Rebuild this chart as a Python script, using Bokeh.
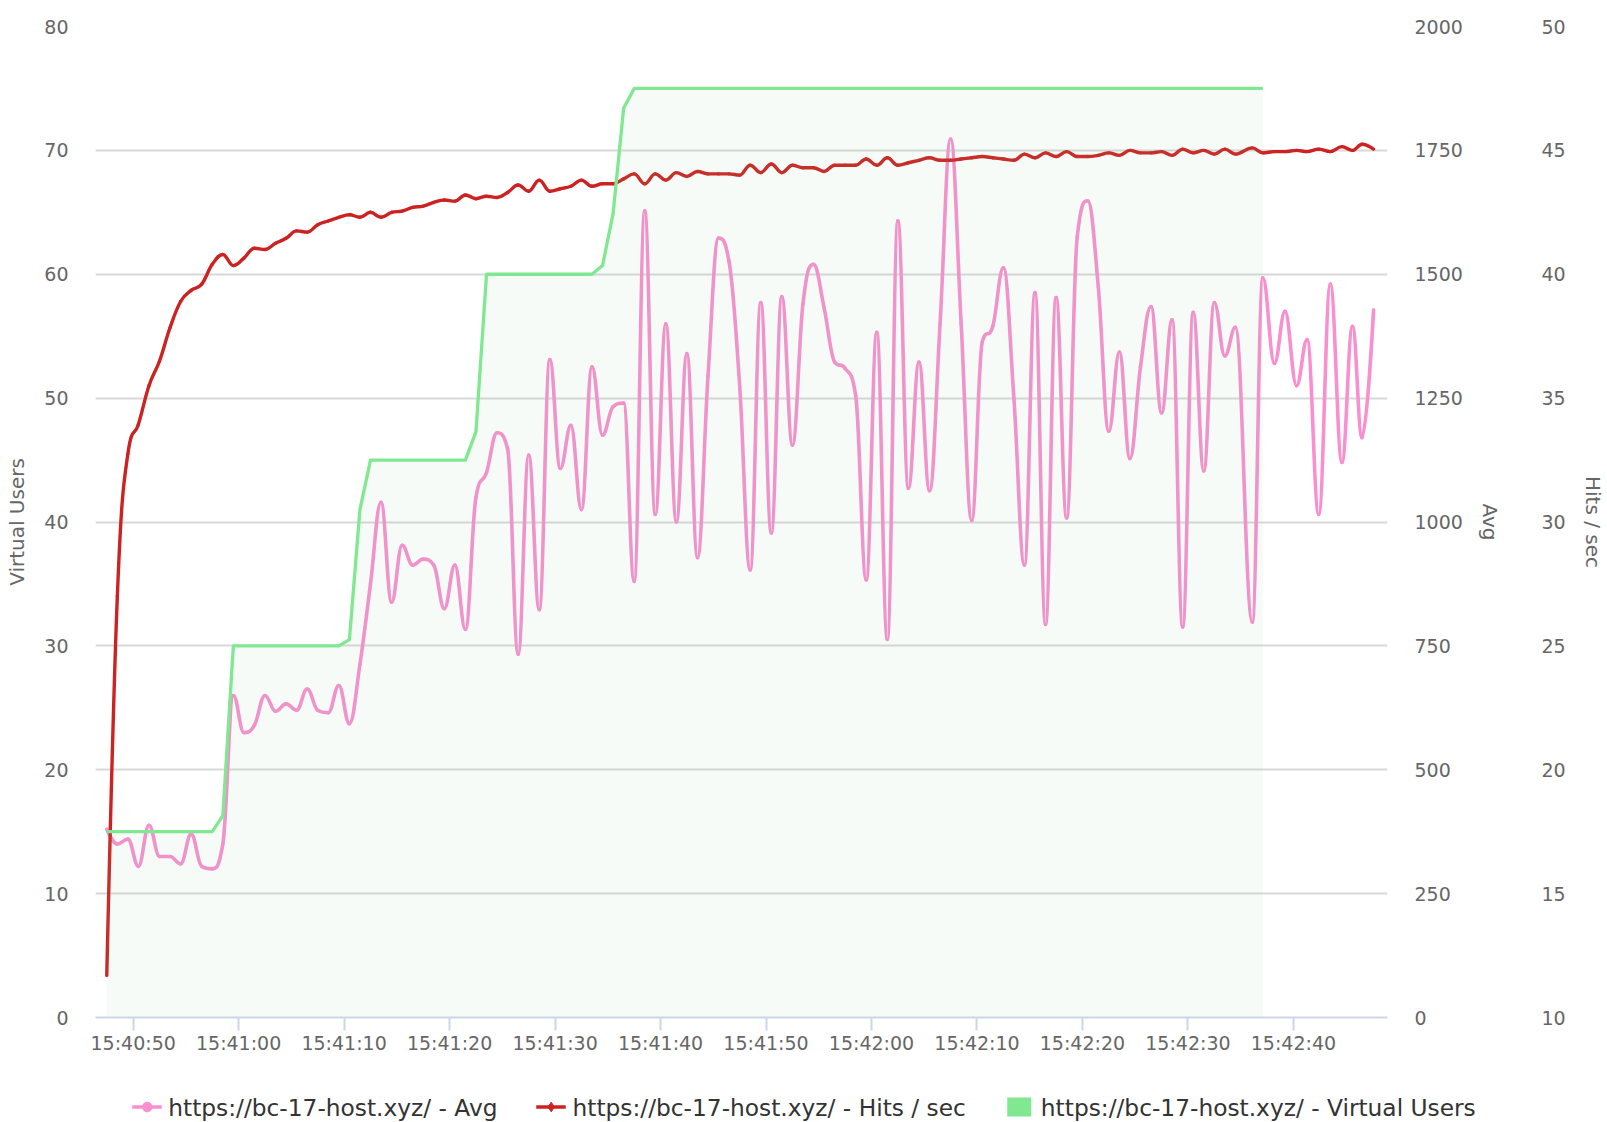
import datetime as dt

from bokeh.embed import file_html
from bokeh.layouts import column
from bokeh.models import (ColumnDataSource, DatetimeTickFormatter, FixedTicker,
                          Legend, LegendItem, LinearAxis, Range1d,
                          SingleIntervalTicker)
from bokeh.plotting import figure
from bokeh.resources import INLINE

# ---------------- data ----------------
START = dt.datetime(2024, 1, 1, 15, 40, 47, 500000)

# seconds after START for each sample
SECONDS = list(range(108)) + [108.6, 109.6, 110.7, 111.7, 112.8, 113.8,
                              114.9, 116.0, 117.1, 118.1, 119.0, 120.1]

AVG_MS = [380, 350, 360, 305, 388, 325, 325, 310, 370, 305,
          300, 350, 650, 575, 590, 650, 618, 633, 620, 663,
          620, 615, 670, 593, 713, 875, 1040, 838, 953, 913,
          925, 913, 825, 913, 783, 1050, 1100, 1180, 1148, 733,
          1135, 823, 1328, 1108, 1195, 1025, 1313, 1175, 1233, 1240,
          880, 1628, 1015, 1400, 1000, 1340, 928, 1295, 1573, 1525,
          1275, 903, 1443, 978, 1455, 1155, 1440, 1520, 1433, 1323,
          1310, 1255, 883, 1383, 763, 1608, 1068, 1323, 1063, 1400,
          1773, 1400, 1003, 1363, 1395, 1513, 1250, 913, 1463, 793,
          1453, 1008, 1575, 1648, 1475, 1183, 1343, 1128, 1313, 1435,
          1220, 1408, 788, 1423, 1103, 1443, 1335, 1393,
          798, 1493, 1320, 1425, 1275, 1368, 1015, 1480, 1120, 1395, 1170, 1428]

HITS_PER_SEC = [11.7, 27.0, 32.75, 33.95, 35.5, 36.5, 37.85, 38.9, 39.35, 39.6,
                40.4, 40.8, 40.35, 40.65, 41.05, 41.0, 41.25, 41.45, 41.75, 41.7,
                42.0, 42.15, 42.3, 42.4, 42.3, 42.5, 42.3, 42.5, 42.55, 42.7,
                42.75, 42.9, 43.0, 42.95, 43.2, 43.05, 43.15, 43.1, 43.3, 43.6,
                43.35, 43.8, 43.35, 43.45, 43.55, 43.8, 43.55, 43.65, 43.65, 43.85,
                44.05, 43.65, 44.05, 43.8, 44.1, 43.95, 44.15, 44.05, 44.05, 44.05,
                44.0, 44.4, 44.1, 44.45, 44.1, 44.4, 44.3, 44.3, 44.15, 44.4,
                44.4, 44.4, 44.65, 44.4, 44.7, 44.4, 44.5, 44.6, 44.7, 44.6,
                44.6, 44.65, 44.7, 44.75, 44.7, 44.65, 44.6, 44.85, 44.7, 44.9,
                44.75, 44.95, 44.75, 44.75, 44.8, 44.9, 44.8, 45.0, 44.9, 44.9,
                44.95, 44.8, 45.05, 44.9, 45.0, 44.85, 45.05, 44.85,
                45.1, 44.9, 44.95, 44.95, 45.0, 44.95, 45.05, 44.95, 45.15, 45.0, 45.25, 45.05]

VIRTUAL_USERS = ([15] * 11 + [16.3] + [30] * 11 + [30.5, 41] + [45] * 10 +
                 [47.3] + [60] * 11 + [60.7, 64.9, 73.4] + [75] * 60)

VU_TICKS = [0, 10, 20, 30, 40, 50, 60, 70, 80]
AVG_TICKS = [0, 250, 500, 750, 1000, 1250, 1500, 1750, 2000]
HITS_TICKS = [10, 15, 20, 25, 30, 35, 40, 45, 50]

LABEL_AVG = "https://bc-17-host.xyz/ - Avg"
LABEL_HITS = "https://bc-17-host.xyz/ - Hits / sec"
LABEL_VU = "https://bc-17-host.xyz/ - Virtual Users"

PINK = "#f98fcf"
RED = "#cc2222"
GREEN = "#80e890"
FONT = "DejaVu Sans"
TICK_SIZE = "19px"

EPOCH = dt.datetime(1970, 1, 1)
BASE_MS = (START - EPOCH).total_seconds() * 1000.0


def to_ms(s):
    return BASE_MS + s * 1000.0


def spline(xs, ys, smoothing=1.5):
    """Highcharts-style spline: bezier segments through the data points."""
    n = len(xs)
    left = [None] * n
    right = [None] * n
    for i in range(n):
        x, y = xs[i], ys[i]
        if i == 0 or i == n - 1:
            left[i] = (x, y)
            right[i] = (x, y)
            continue
        lx, ly = xs[i - 1], ys[i - 1]
        nx, ny = xs[i + 1], ys[i + 1]
        lcx = (smoothing * x + lx) / (smoothing + 1)
        lcy = (smoothing * y + ly) / (smoothing + 1)
        rcx = (smoothing * x + nx) / (smoothing + 1)
        rcy = (smoothing * y + ny) / (smoothing + 1)
        if rcx != lcx:
            corr = (rcy - lcy) * (rcx - x) / (rcx - lcx) + y - rcy
            lcy += corr
            rcy += corr
            if lcy > ly and lcy > y:
                lcy = max(ly, y)
                rcy = 2 * y - lcy
            elif lcy < ly and lcy < y:
                lcy = min(ly, y)
                rcy = 2 * y - lcy
            if rcy > ny and rcy > y:
                rcy = max(ny, y)
                lcy = 2 * y - rcy
            elif rcy < ny and rcy < y:
                rcy = min(ny, y)
                lcy = 2 * y - rcy
        left[i] = (lcx, lcy)
        right[i] = (rcx, rcy)
    d = dict(x0=[], y0=[], x1=[], y1=[], cx0=[], cy0=[], cx1=[], cy1=[])
    for i in range(n - 1):
        d["x0"].append(xs[i]); d["y0"].append(ys[i])
        d["x1"].append(xs[i + 1]); d["y1"].append(ys[i + 1])
        d["cx0"].append(right[i][0]); d["cy0"].append(right[i][1])
        d["cx1"].append(left[i + 1][0]); d["cy1"].append(left[i + 1][1])
    return ColumnDataSource(d)


times = [to_ms(s) for s in SECONDS]

W = 1607
H_MAIN, H_LEG = 1091, 31
p = figure(width=W, height=H_MAIN, x_axis_type="datetime",
           x_range=Range1d(to_ms(-1.07), to_ms(121.42)),
           y_range=Range1d(0, 80),
           output_backend="svg", toolbar_location=None,
           min_border_left=95, min_border_right=218,
           min_border_top=26, min_border_bottom=H_MAIN - 1017)
p.frame_align = False
p.outline_line_color = None
p.background_fill_color = "white"
p.border_fill_color = "white"

p.extra_y_ranges = {"avg": Range1d(0, 2000), "hits": Range1d(10, 50)}

# grid
p.xgrid.grid_line_color = None
p.ygrid.grid_line_color = "#d8d8d8"
p.ygrid.grid_line_width = 2
p.ygrid.ticker = FixedTicker(ticks=VU_TICKS)

# x axis
xa = p.xaxis[0]
xa.ticker = SingleIntervalTicker(interval=10000, num_minor_ticks=0)
fmt = "%H:%M:%S"
xa.formatter = DatetimeTickFormatter(seconds=fmt, minsec=fmt, minutes=fmt,
                                     hourmin=fmt, hours=fmt, milliseconds=fmt)
xa.axis_line_color = "#ccd6eb"
xa.axis_line_width = 2
xa.major_tick_line_color = "#ccd6eb"
xa.major_tick_line_width = 2
xa.major_tick_out = 13
xa.major_tick_in = 0
xa.minor_tick_line_color = None
xa.major_label_standoff = 1
xa.major_label_text_font = FONT
xa.major_label_text_font_size = TICK_SIZE
xa.major_label_text_color = "#666666"


def style_y(ax, standoff, label_standoff):
    ax.axis_line_color = None
    ax.major_tick_line_color = None
    ax.minor_tick_line_color = None
    ax.major_tick_out = 0
    ax.major_tick_in = 0
    ax.major_label_standoff = standoff
    ax.major_label_text_font = FONT
    ax.major_label_text_font_size = TICK_SIZE
    ax.major_label_text_color = "#666666"
    ax.axis_label_text_font = FONT
    ax.axis_label_text_font_size = "20px"
    ax.axis_label_text_font_style = "normal"
    ax.axis_label_text_color = "#666666"
    ax.axis_label_standoff = label_standoff


ya = p.yaxis[0]
ya.ticker = FixedTicker(ticks=VU_TICKS)
ya.axis_label = "Virtual Users"
style_y(ya, 27, 12)

avg_axis = LinearAxis(y_range_name="avg", axis_label="Avg",
                      ticker=FixedTicker(ticks=AVG_TICKS))
style_y(avg_axis, 27, 12)
p.add_layout(avg_axis, "right")

hits_axis = LinearAxis(y_range_name="hits", axis_label="Hits / sec",
                       ticker=FixedTicker(ticks=HITS_TICKS))
style_y(hits_axis, 37, 12)
p.add_layout(hits_axis, "right")

# series
avg_src = spline(times, AVG_MS)
p.bezier(x0="x0", y0="y0", x1="x1", y1="y1", cx0="cx0", cy0="cy0",
         cx1="cx1", cy1="cy1", source=avg_src, y_range_name="avg",
         line_color=PINK, line_width=3.6, line_cap="round", line_join="round")

hits_src = spline(times, HITS_PER_SEC)
p.bezier(x0="x0", y0="y0", x1="x1", y1="y1", cx0="cx0", cy0="cy0",
         cx1="cx1", cy1="cy1", source=hits_src, y_range_name="hits",
         line_color=RED, line_width=3.4, line_cap="round", line_join="round")

vu_times = times[:len(VIRTUAL_USERS)]
p.varea(x=vu_times, y1=[0] * len(VIRTUAL_USERS), y2=VIRTUAL_USERS,
        fill_color="#8fc79a", fill_alpha=0.08)
p.line(vu_times, VIRTUAL_USERS, line_color=GREEN, line_width=3.3,
       line_join="round")

# ---------------- legend strip ----------------
lp = figure(width=W, height=H_LEG, x_range=Range1d(0, 1), y_range=Range1d(0, 1),
            x_axis_location=None, y_axis_location=None,
            output_backend="svg", toolbar_location=None,
            min_border=0, min_border_left=0, min_border_right=0,
            min_border_top=0, min_border_bottom=0)
lp.frame_align = False
lp.grid.visible = False
lp.outline_line_color = None
lp.background_fill_color = "white"
lp.border_fill_color = "white"

# proxy renderers with points outside the strip's view (only their legend glyphs show)
off = [-10, -9]
l_avg = lp.line(off, off, line_color=PINK, line_width=3.6)
m_avg = lp.scatter(off, off, marker="circle", fill_color=PINK, line_color=PINK)
l_hits = lp.line(off, off, line_color=RED, line_width=3.4)
m_hits = lp.scatter(off, off, marker="diamond", fill_color=RED, line_color=RED)
a_vu = lp.varea(x=off, y1=[-20, -20], y2=off, fill_color=GREEN, fill_alpha=1)

legend = Legend(items=[LegendItem(label=LABEL_AVG, renderers=[l_avg, m_avg]),
                       LegendItem(label=LABEL_HITS, renderers=[l_hits, m_hits]),
                       LegendItem(label=LABEL_VU, renderers=[a_vu])],
                orientation="horizontal", location="center",
                glyph_width=30, glyph_height=24, label_standoff=7, spacing=38,
                padding=0, margin=0, border_line_color=None,
                background_fill_alpha=0,
                label_text_font=FONT, label_text_font_size="23.3px",
                label_text_color="#333333")
lp.add_layout(legend, "center")

layout = column(p, lp, spacing=0)
open("out.html", "w").write(file_html(layout, INLINE))
